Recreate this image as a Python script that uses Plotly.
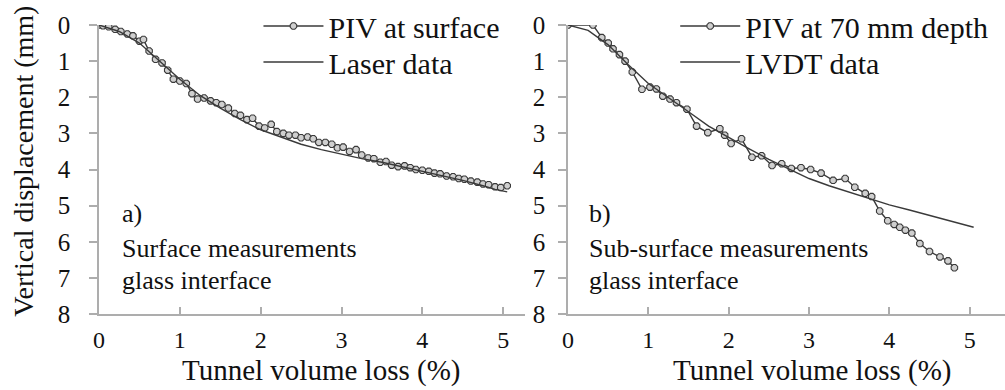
import plotly.graph_objects as go

# ---- data ----
piv_surf_x = [0.00, 0.05, 0.12, 0.20, 0.27, 0.35, 0.42, 0.50, 0.55, 0.62, 0.70, 0.78, 0.85, 0.92,
              1.00, 1.08, 1.15, 1.22, 1.30, 1.38, 1.45, 1.52, 1.60, 1.68, 1.75, 1.83, 1.90, 1.98,
              2.05, 2.13, 2.20, 2.28, 2.35, 2.43, 2.50, 2.58, 2.65, 2.72, 2.80, 2.88, 2.95, 3.02,
              3.10, 3.18, 3.25, 3.33, 3.40, 3.48, 3.55, 3.62, 3.70, 3.78, 3.85, 3.92, 4.00, 4.08,
              4.15, 4.22, 4.30, 4.38, 4.45, 4.52, 4.60, 4.68, 4.75, 4.82, 4.90, 4.97, 5.05]
piv_surf_y = [0.00, 0.02, 0.05, 0.12, 0.18, 0.25, 0.30, 0.45, 0.40, 0.72, 0.95, 1.05, 1.25, 1.50,
              1.55, 1.62, 1.90, 2.05, 2.02, 2.10, 2.15, 2.20, 2.30, 2.45, 2.50, 2.62, 2.58, 2.80,
              2.85, 2.75, 2.95, 3.00, 3.05, 3.05, 3.12, 3.10, 3.15, 3.25, 3.25, 3.30, 3.40, 3.38,
              3.50, 3.45, 3.60, 3.68, 3.70, 3.80, 3.78, 3.88, 3.92, 3.90, 3.95, 4.00, 4.02, 4.05,
              4.10, 4.12, 4.18, 4.20, 4.25, 4.27, 4.32, 4.35, 4.40, 4.42, 4.48, 4.50, 4.45]

laser_x = [0.00, 0.25, 0.50, 0.75, 1.00, 1.25, 1.50, 1.75, 2.00, 2.25, 2.50, 2.75, 3.00, 3.25,
           3.50, 3.75, 4.00, 4.25, 4.50, 4.75, 4.90, 5.05]
laser_y = [0.00, 0.18, 0.50, 1.00, 1.50, 1.95, 2.30, 2.62, 2.90, 3.10, 3.30, 3.45, 3.58, 3.70,
           3.80, 3.92, 4.05, 4.18, 4.30, 4.45, 4.55, 4.62]

piv_depth_x = [0.00, 0.31, 0.42, 0.50, 0.56, 0.64, 0.71, 0.80, 0.92, 1.02, 1.10, 1.18, 1.27, 1.35,
               1.48, 1.60, 1.74, 1.89, 1.95, 2.03, 2.16, 2.29, 2.41, 2.54, 2.66, 2.78, 2.90, 3.02,
               3.15, 3.30, 3.45, 3.57, 3.70, 3.78, 3.88, 3.98, 4.06, 4.13, 4.20, 4.28, 4.38, 4.50,
               4.63, 4.73, 4.81]
piv_depth_y = [0.00, 0.00, 0.35, 0.50, 0.66, 0.82, 1.00, 1.30, 1.78, 1.72, 1.77, 1.97, 2.05, 2.15,
               2.33, 2.80, 2.98, 2.87, 3.05, 3.28, 3.15, 3.66, 3.62, 3.89, 3.84, 3.97, 3.95, 4.00,
               4.10, 4.30, 4.25, 4.49, 4.66, 4.75, 5.15, 5.42, 5.52, 5.60, 5.68, 5.76, 6.05, 6.27,
               6.42, 6.53, 6.72]

lvdt_x = [0.00, 0.25, 0.50, 0.75, 1.00, 1.25, 1.50, 1.75, 2.00, 2.25, 2.50, 2.75, 3.00, 3.25,
          3.50, 3.75, 4.00, 4.25, 4.50, 4.75, 5.05]
lvdt_y = [0.00, 0.15, 0.55, 1.10, 1.62, 2.00, 2.40, 2.80, 3.12, 3.42, 3.72, 3.98, 4.25, 4.45,
          4.62, 4.80, 4.98, 5.12, 5.27, 5.42, 5.60]

x_ticks = [0, 1, 2, 3, 4, 5]
y_ticks = [0, 1, 2, 3, 4, 5, 6, 7, 8]

x_title = "Tunnel volume loss (%)"
y_title = "Vertical displacement (mm)"
texts_a = ["a)", "Surface measurements", "glass interface"]
texts_b = ["b)", "Sub-surface measurements", "glass interface"]

FONT = "Liberation Serif"
TXT = "#111111"
LINE = "#3a3a3a"
AX = "#adadad"

fig = go.Figure()

marker = dict(symbol="octagon", size=7, color="#cfcfcf", line=dict(color=LINE, width=1.1))

fig.add_trace(go.Scatter(x=piv_surf_x, y=piv_surf_y, mode="lines+markers", name="PIV at surface",
                         line=dict(color=LINE, width=1.4), marker=marker,
                         xaxis="x", yaxis="y", legend="legend"))
fig.add_trace(go.Scatter(x=laser_x, y=laser_y, mode="lines", name="Laser data",
                         line=dict(color=LINE, width=1.4),
                         xaxis="x", yaxis="y", legend="legend2"))
fig.add_trace(go.Scatter(x=piv_depth_x, y=piv_depth_y, mode="lines+markers", name="PIV at 70 mm depth",
                         line=dict(color=LINE, width=1.4), marker=marker,
                         xaxis="x2", yaxis="y2", legend="legend3"))
fig.add_trace(go.Scatter(x=lvdt_x, y=lvdt_y, mode="lines", name="LVDT data",
                         line=dict(color=LINE, width=1.4),
                         xaxis="x2", yaxis="y2", legend="legend4"))

xcommon = dict(showline=True, linecolor=AX, linewidth=1.5, showgrid=False, zeroline=False,
               ticks="inside", ticklen=7, tickcolor=AX, tickwidth=1.5, tickvals=x_ticks,
               tickfont=dict(family=FONT, size=24, color=TXT), ticklabelstandoff=3)
ycommon = dict(showline=True, linecolor=AX, linewidth=1.5, showgrid=False, zeroline=False,
               ticks="outside", ticklen=8, tickcolor=AX, tickwidth=1.5, tickvals=y_ticks,
               range=[8, 0], tickfont=dict(family=FONT, size=25, color=TXT))

legcommon = dict(font=dict(family=FONT, size=30, color=TXT), bgcolor="rgba(0,0,0,0)",
                 itemwidth=60, xanchor="left", yanchor="top", itemclick=False,
                 xref="paper", yref="paper")

fig.update_layout(
    width=1005, height=390,
    margin=dict(l=99, r=0, t=22, b=76),
    paper_bgcolor="white", plot_bgcolor="white",
    xaxis=dict(domain=[0, 0.4702], range=[0, 5.27], anchor="y", **xcommon),
    yaxis=dict(domain=[0, 1], anchor="x", ticklabelstandoff=14, **ycommon),
    xaxis2=dict(domain=[0.5177, 1], range=[0, 5.44], anchor="y2", **xcommon),
    yaxis2=dict(domain=[0, 1], anchor="x2", ticklabelstandoff=8, **ycommon),
    legend=dict(x=0.176, y=1.088, **legcommon),
    legend2=dict(x=0.176, y=0.962, **legcommon),
    legend3=dict(x=0.636, y=1.088, **legcommon),
    legend4=dict(x=0.636, y=0.962, **legcommon),
    showlegend=True,
)

title_font = dict(family=FONT, size=29, color=TXT)
fig.add_annotation(text=x_title, x=0.245, y=-0.197, xref="paper", yref="paper",
                   xanchor="center", yanchor="middle", showarrow=False, font=title_font)
fig.add_annotation(text=x_title, x=0.787, y=-0.197, xref="paper", yref="paper",
                   xanchor="center", yanchor="middle", showarrow=False, font=title_font)
fig.add_annotation(text=y_title, x=-0.083, y=0.53, xref="paper", yref="paper", textangle=-90,
                   xanchor="center", yanchor="middle", showarrow=False,
                   font=dict(family=FONT, size=28, color=TXT))

ann_font = dict(family=FONT, size=26, color=TXT)
ys = [5.22, 6.18, 7.08]
for t, yv in zip(texts_a, ys):
    fig.add_annotation(text=t, x=0.26, y=yv, xref="x", yref="y", xanchor="left", yanchor="middle",
                       showarrow=False, font=ann_font)
for t, yv in zip(texts_b, ys):
    fig.add_annotation(text=t, x=0.24, y=yv, xref="x2", yref="y2", xanchor="left", yanchor="middle",
                       showarrow=False, font=ann_font)

fig.write_html("out.html")
